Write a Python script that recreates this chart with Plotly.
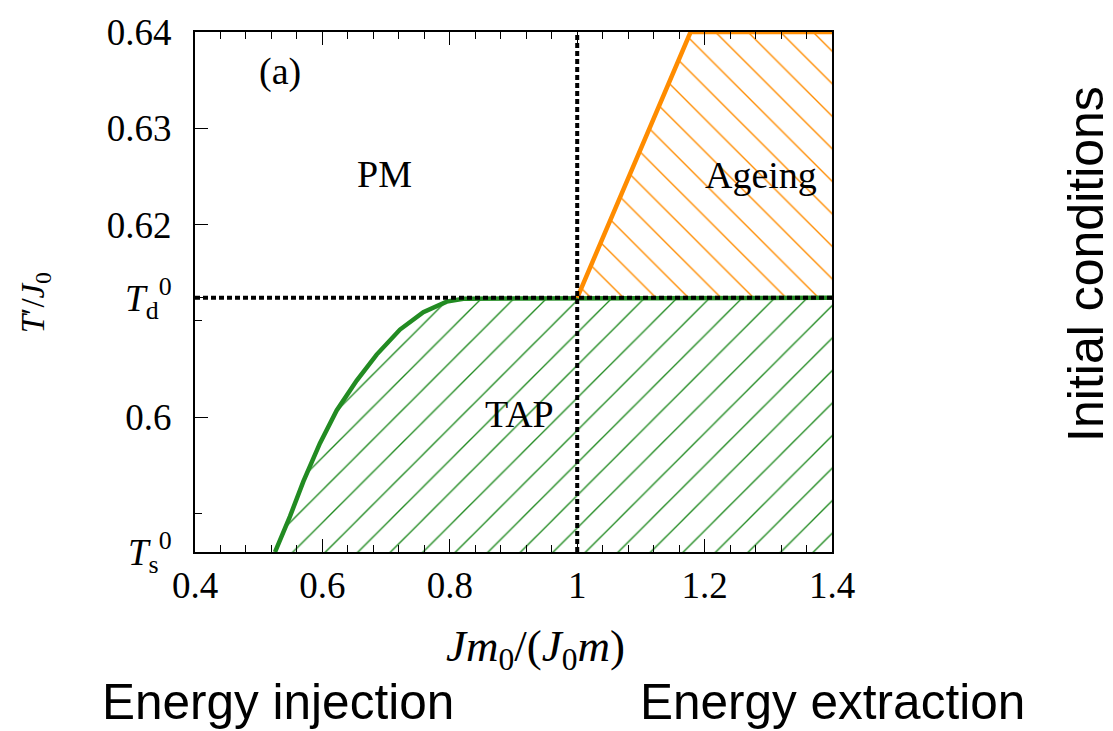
import plotly.graph_objects as go

# ---- data ----
T_s = 0.586          # T_s^0
T_d = 0.6124         # T_d^0
x_min, x_max = 0.4, 1.4
y_top = 0.64

# green boundary (TAP region)
tap_x = [0.5256, 0.5491, 0.5700, 0.5962, 0.6224, 0.6538, 0.6852, 0.7218, 0.7584, 0.7951, 0.8212, 1.4]
tap_y = [0.5860, 0.5897, 0.5933, 0.5973, 0.6007, 0.6038, 0.6065, 0.6091, 0.6109, 0.6120, 0.6123, 0.6124]

# orange boundary (Ageing region)
age_x = [1.0, 1.178, 1.4]
age_y = [0.6124, 0.64, 0.64]

x_ticks = [0.4, 0.6, 0.8, 1.0, 1.2, 1.4]
x_ticktext = ["0.4", "0.6", "0.8", "1", "1.2", "1.4"]
y_ticks = [0.586, 0.6, 0.6124, 0.62, 0.63, 0.64]
y_ticktext = ["<i>T</i><sub>s</sub><sup>0</sup>", "0.6", "<i>T</i><sub>d</sub><sup>0</sup>",
              "0.62", "0.63", "0.64"]
y_minor = [0.59, 0.61]

GREEN = "#228B22"
ORANGE = "#FF8C00"
SERIF = "Liberation Serif"
SANS = "Liberation Sans"

fig = go.Figure()

# TAP hatched region
fig.add_trace(go.Scatter(
    x=tap_x + [x_max, tap_x[0]],
    y=tap_y + [T_s, T_s],
    fill="toself", mode="none", fillcolor="rgba(0,0,0,0)",
    fillpattern=dict(shape="/", fgcolor=GREEN, fgopacity=1, bgcolor="rgba(0,0,0,0)",
                     size=23, solidity=0.06, fillmode="overlay"),
    hoverinfo="skip", showlegend=False))

# Ageing hatched region
fig.add_trace(go.Scatter(
    x=age_x + [x_max, age_x[0]],
    y=age_y + [T_d, T_d],
    fill="toself", mode="none", fillcolor="rgba(0,0,0,0)",
    fillpattern=dict(shape="\\", fgcolor=ORANGE, fgopacity=1, bgcolor="rgba(0,0,0,0)",
                     size=23, solidity=0.06, fillmode="overlay"),
    hoverinfo="skip", showlegend=False))

# boundaries
fig.add_trace(go.Scatter(x=tap_x, y=tap_y, mode="lines",
                         line=dict(color=GREEN, width=4.5),
                         hoverinfo="skip", showlegend=False))
fig.add_trace(go.Scatter(x=age_x, y=age_y, mode="lines",
                         line=dict(color=ORANGE, width=4.5),
                         hoverinfo="skip", showlegend=False))

# dashed reference lines
fig.add_trace(go.Scatter(x=[x_min, x_max], y=[T_d, T_d], mode="lines",
                         line=dict(color="black", width=4, dash="5px,3px"),
                         hoverinfo="skip", showlegend=False))
fig.add_trace(go.Scatter(x=[1.0, 1.0], y=[T_s, y_top], mode="lines",
                         line=dict(color="black", width=4, dash="5px,3px"),
                         hoverinfo="skip", showlegend=False))

tickfont = dict(family=SERIF, size=37, color="black")

fig.update_xaxes(
    range=[x_min, x_max], tickmode="array", tickvals=x_ticks, ticktext=x_ticktext,
    ticks="inside", ticklen=13, tickwidth=1.2, tickcolor="black",
    minor=dict(ticks="inside", ticklen=7, dtick=0.04, tick0=0.4, tickcolor="black", tickwidth=1.2),
    showline=True, linecolor="black", linewidth=2, mirror="ticks",
    showgrid=False, zeroline=False, tickfont=tickfont, ticklabelstandoff=0)

fig.update_yaxes(
    range=[T_s, y_top], tickmode="array", tickvals=y_ticks, ticktext=y_ticktext,
    ticks="inside", ticklen=13, tickwidth=1.2, tickcolor="black",
    minor=dict(ticks="inside", ticklen=7, tickmode="array", tickvals=y_minor,
               tickcolor="black", tickwidth=1.2),
    showline=True, linecolor="black", linewidth=2, mirror=True,
    showgrid=False, zeroline=False, tickfont=tickfont, ticklabelstandoff=14)

ann = []
def txt(x, y, s, font, xref="x", yref="y", angle=0):
    ann.append(dict(x=x, y=y, xref=xref, yref=yref, text=s, showarrow=False,
                    font=font, textangle=angle, xanchor="center", yanchor="middle"))

lab = dict(family=SERIF, size=38, color="black")
txt(0.533, 0.6359, "(a)", lab)
txt(0.697, 0.6253, "PM", lab)
txt(0.909, 0.6003, "TAP", lab)
txt(1.289, 0.6251, "Ageing", lab)

txt(0.534, -0.186, "<i>Jm</i><sub>0</sub>/(<i>J</i><sub>0</sub><i>m</i>)",
    dict(family=SERIF, size=45, color="black"), "paper", "paper")
txt(-0.250, 0.48, "<i>T</i>′/<i>J</i><sub>0</sub>",
    dict(family=SERIF, size=33, color="black"), "paper", "paper", -90)

big = dict(family=SANS, size=49.5, color="black")
txt(1.3987, 0.554, "Initial conditions", dict(family=SANS, size=50, color="black"),
    "paper", "paper", -90)
txt(0.130, -0.288, "Energy injection", big, "paper", "paper")
txt(1.0008, -0.288, "Energy extraction", big, "paper", "paper")

fig.update_layout(
    width=1113, height=731,
    margin=dict(l=195, r=281, t=25, b=179),
    paper_bgcolor="white", plot_bgcolor="white",
    annotations=ann, showlegend=False)

fig.write_html("out.html")
